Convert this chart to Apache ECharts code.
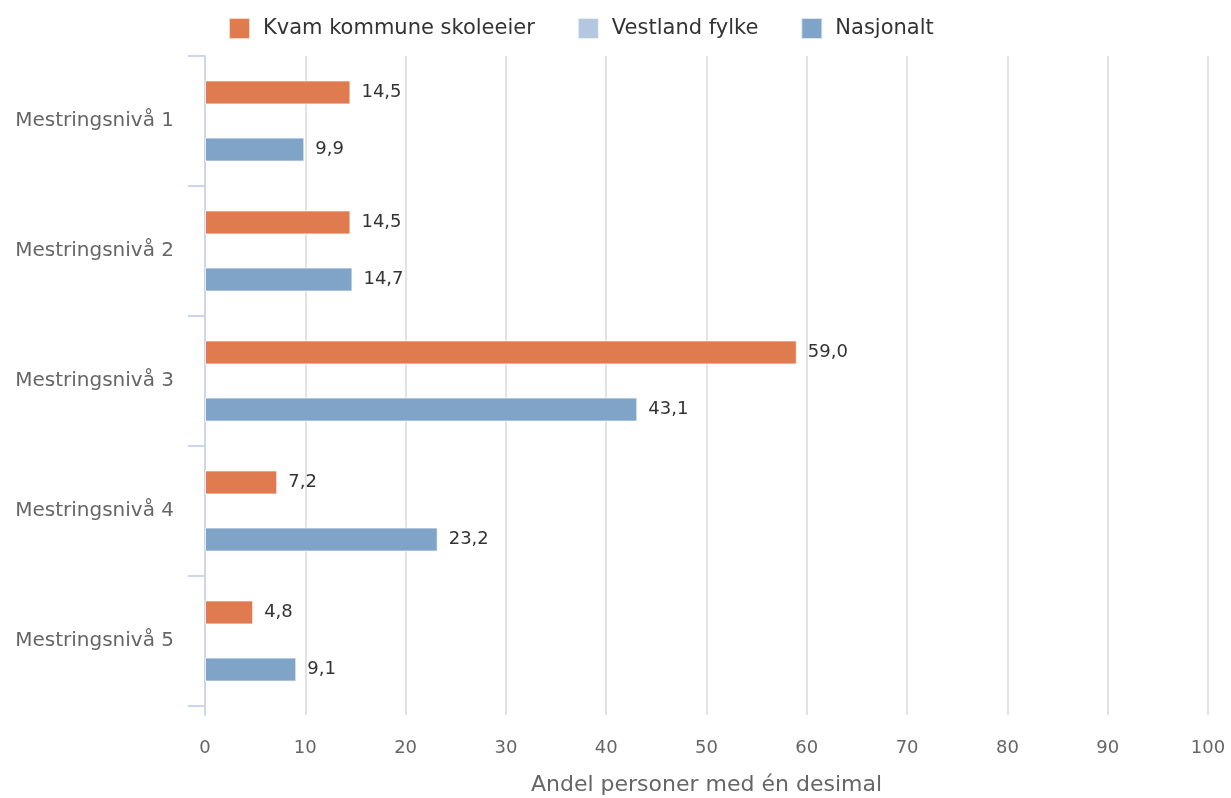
<!DOCTYPE html>
<html>
<head>
<meta charset="utf-8">
<script src="https://cdn.jsdelivr.net/npm/echarts@6/dist/echarts.min.js"></script>
<style>
  html, body { margin: 0; padding: 0; background: #fff; }
  #chart { width: 1231px; height: 798px; }
</style>
</head>
<body>
<div id="chart"></div>
<script>
// Mestringsnivå categories, top to bottom
const categories = ['Mestringsnivå 1', 'Mestringsnivå 2', 'Mestringsnivå 3', 'Mestringsnivå 4', 'Mestringsnivå 5'];
// Share of pupils (%) per level
const kvamValues = [14.5, 14.5, 59.0, 7.2, 4.8];
const vestlandValues = [null, null, null, null, null];
const nasjonaltValues = [9.9, 14.7, 43.1, 23.2, 9.1];
const seriesNames = ['Kvam kommune skoleeier', 'Vestland fylke', 'Nasjonalt'];
const xTicks = [0, 100, 10]; // min, max, interval
const xAxisTitle = 'Andel personer med én desimal';

const FONT = 'DejaVu Sans';
const colors = ['#e07b50', '#b3c8de', '#7fa4c8'];
const axisBlue = '#ccd6eb';
const gridGrey = '#e3e3e3';

const fmt = v => (v == null ? '' : Number(v).toFixed(1).replace('.', ','));

function barSeries(name, data, color) {
  return {
    name: name,
    type: 'bar',
    data: data,
    barWidth: 24,
    barGap: '19%',
    itemStyle: { color: color, borderColor: 'rgba(255,255,255,0.7)', borderWidth: 1 },
    label: {
      show: true,
      position: 'right',
      distance: 11,
      color: '#333',
      fontFamily: FONT,
      fontSize: 18,
      formatter: p => fmt(p.value)
    },
    xAxisIndex: 0,
    yAxisIndex: 0
  };
}

const chart = echarts.init(document.getElementById('chart'), null, { renderer: 'canvas' });
chart.setOption({
  animation: false,
  color: colors,
  legend: {
    top: 17,
    left: 228,
    padding: 0,
    itemWidth: 21,
    itemHeight: 21,
    itemGap: 42,
    icon: 'rect',
    textStyle: { color: '#333', fontFamily: FONT, fontSize: 21, padding: [0, 0, 0, 8] },
    data: seriesNames
  },
  grid: [
    { left: 205, right: 23, top: 56, height: 650 },
    { left: 205, right: 23, top: 706, height: 9 }
  ],
  xAxis: [
    {
      gridIndex: 0, type: 'value', min: xTicks[0], max: xTicks[1], interval: xTicks[2],
      axisLine: { show: false }, axisTick: { show: false }, axisLabel: { show: false },
      splitLine: { show: true, lineStyle: { color: gridGrey, width: 2 } }
    },
    {
      gridIndex: 1, type: 'value', min: xTicks[0], max: xTicks[1], interval: xTicks[2],
      axisLine: { show: false }, axisTick: { show: false },
      axisLabel: { show: true, color: '#666', fontFamily: FONT, fontSize: 18, margin: 24 },
      splitLine: { show: true, lineStyle: { color: gridGrey, width: 2 } },
      name: xAxisTitle, nameLocation: 'middle', nameGap: 59,
      nameTextStyle: { color: '#666', fontFamily: FONT, fontSize: 22 }
    }
  ],
  yAxis: [
    {
      gridIndex: 0, type: 'category', data: categories, inverse: true,
      axisLine: { show: true, lineStyle: { color: axisBlue, width: 2 } },
      axisTick: { show: true, length: 17, lineStyle: { color: axisBlue, width: 2 } },
      axisLabel: { color: '#666', fontFamily: FONT, fontSize: 20, margin: 31 },
      splitLine: { show: false }
    },
    {
      gridIndex: 1, type: 'category', data: [''],
      axisLine: { show: true, lineStyle: { color: axisBlue, width: 2 } },
      axisTick: { show: false }, axisLabel: { show: false }
    }
  ],
  series: [
    barSeries(seriesNames[0], kvamValues, colors[0]),
    barSeries(seriesNames[1], vestlandValues, colors[1]),
    barSeries(seriesNames[2], nasjonaltValues, colors[2])
  ]
});
</script>
</body>
</html>
